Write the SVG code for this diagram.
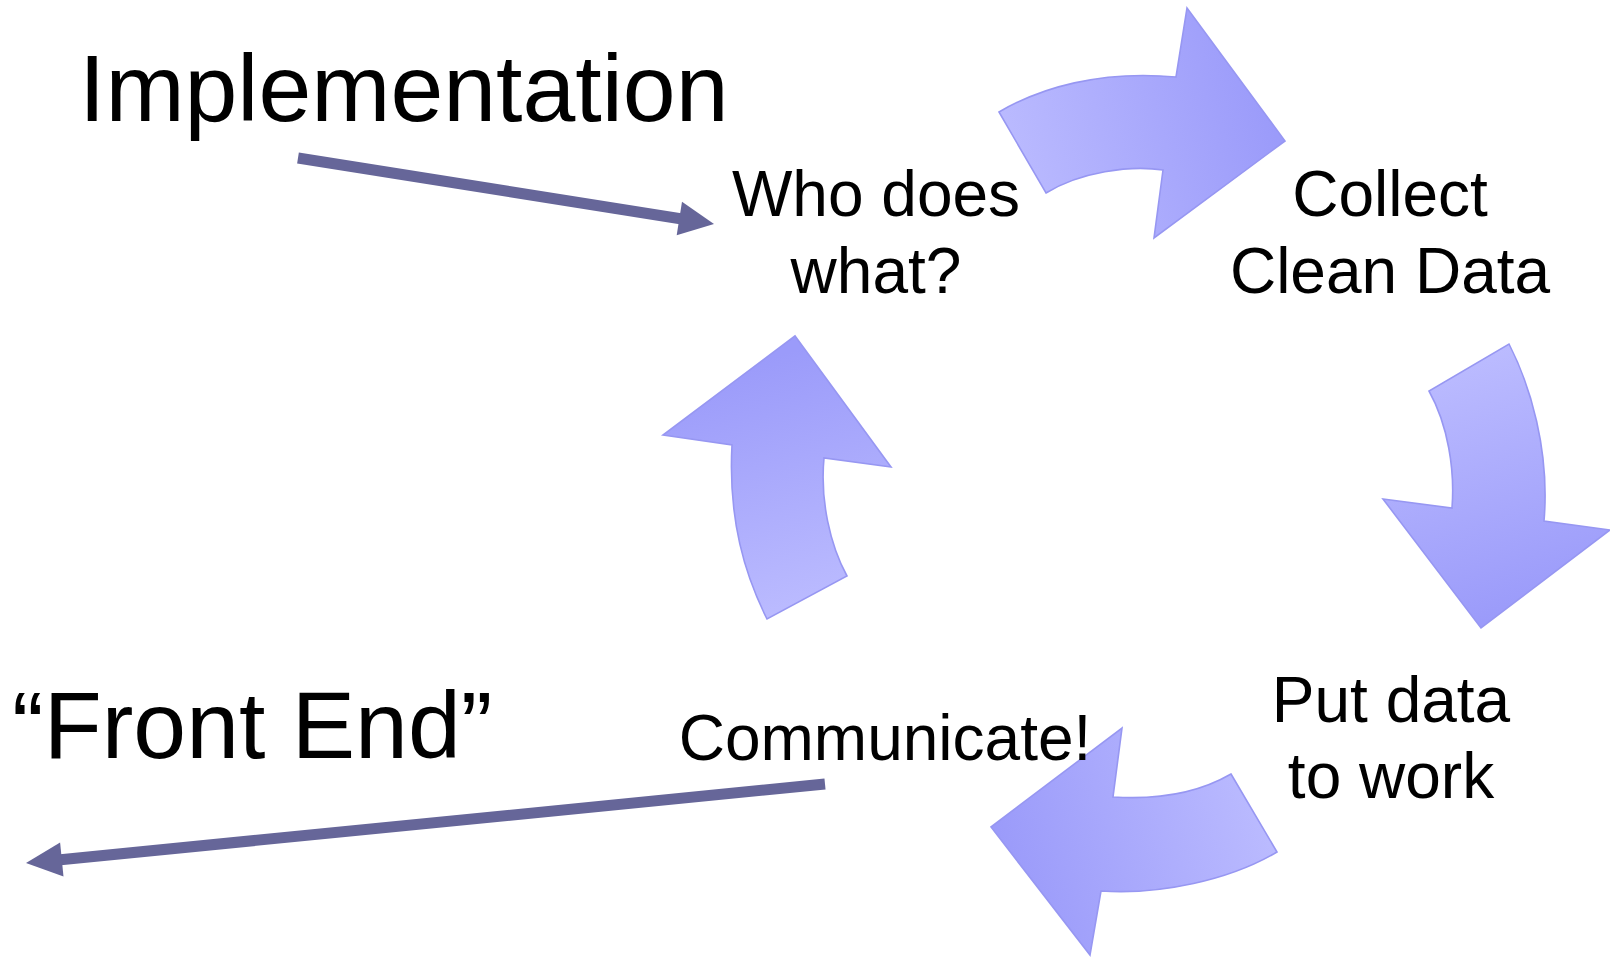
<svg xmlns="http://www.w3.org/2000/svg" width="1610" height="957" viewBox="0 0 1610 957">
<style>
.t{font-family:"Liberation Sans",Arial,sans-serif;fill:#000}
.big{font-size:95px}
.lbl{font-size:64px;text-anchor:middle}
.cyc{stroke:#9797f2;stroke-width:1.6;stroke-linejoin:miter}
.conn{stroke:#666699;stroke-width:11;fill:none}
.head{fill:#666699}
</style>
<defs>
<linearGradient id="gTop" gradientUnits="userSpaceOnUse" x1="1000" y1="180" x2="1270" y2="110"><stop offset="0" stop-color="#bcbcff"/><stop offset="1" stop-color="#9b9bfa"/></linearGradient>
<linearGradient id="gRight" gradientUnits="userSpaceOnUse" x1="1440" y1="360" x2="1520" y2="610"><stop offset="0" stop-color="#bcbcff"/><stop offset="1" stop-color="#9b9bfa"/></linearGradient>
<linearGradient id="gBottom" gradientUnits="userSpaceOnUse" x1="1270" y1="790" x2="1010" y2="870"><stop offset="0" stop-color="#bcbcff"/><stop offset="1" stop-color="#9b9bfa"/></linearGradient>
<linearGradient id="gLeft" gradientUnits="userSpaceOnUse" x1="830" y1="610" x2="760" y2="360"><stop offset="0" stop-color="#bcbcff"/><stop offset="1" stop-color="#9b9bfa"/></linearGradient>
</defs>
<rect width="1610" height="957" fill="#fff"/>
<g id="cycle-arrows">
<path id="arrow-top" class="cyc" fill="url(#gTop)" d="M999,112 C1040,88 1100,70 1176,77 L1187,8 L1285,141 L1154,238 L1163,170 C1130,165 1080,172 1046,193 Z"/>
<path id="arrow-right" class="cyc" fill="url(#gRight)" d="M1509,344 C1530,385 1550,450 1544,521 L1610,530 L1481,628 L1383,499 L1452,508 C1455,470 1448,425 1429,391 Z"/>
<path id="arrow-bottom" class="cyc" fill="url(#gBottom)" d="M1231,774 L1277,852 C1230,880 1160,895 1101,891 L1090,955 L991,827 L1122,728 L1113,797 C1160,800 1200,792 1231,774 Z"/>
<path id="arrow-left" class="cyc" fill="url(#gLeft)" d="M767,619 C745,575 728,520 732,445 L663,435 L795,336 L891,467 L824,458 C820,500 830,545 847,576 Z"/>
</g>
<g id="title-implementation"><text class="t big" x="79" y="121">Implementation</text></g>
<g id="title-frontend"><text class="t big" x="12" y="758">“Front End”</text></g>
<g id="node-who"><text class="t lbl" x="876" y="216">Who does</text><text class="t lbl" x="876" y="293">what?</text></g>
<g id="node-collect"><text class="t lbl" x="1390" y="216">Collect</text><text class="t lbl" x="1390" y="293">Clean Data</text></g>
<g id="node-put"><text class="t lbl" x="1391" y="722">Put data</text><text class="t lbl" x="1391" y="798">to work</text></g>
<g id="node-communicate"><text class="t lbl" x="885" y="760">Communicate!</text></g>
<g id="connectors">
<line class="conn" x1="298" y1="158" x2="682" y2="219"/>
<polygon class="head" points="714,224 682,201.7 676.7,235.3"/>
<line class="conn" x1="825" y1="784" x2="58" y2="860"/>
<polygon class="head" points="26,863 60.1,842.6 63.5,876.4"/>
</g>
</svg>
